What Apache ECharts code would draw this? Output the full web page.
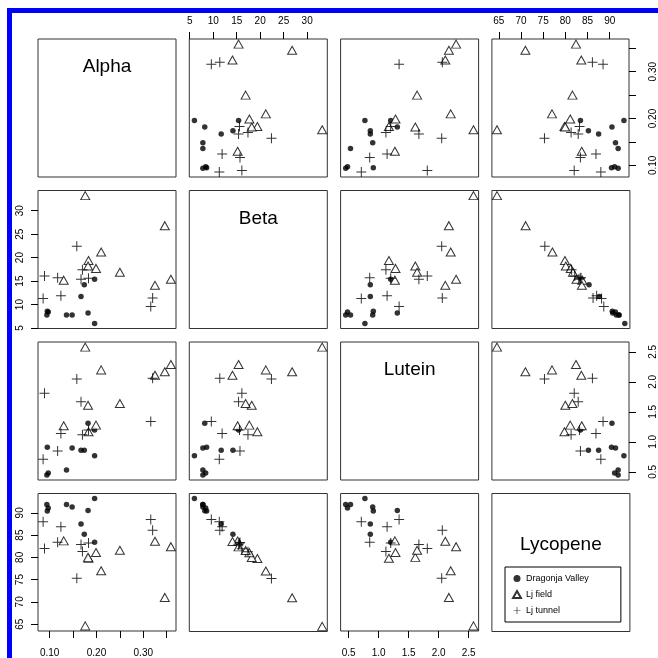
<!DOCTYPE html>
<html><head><meta charset="utf-8">
<script src="https://cdn.jsdelivr.net/npm/echarts@6/dist/echarts.min.js"></script>
<style>html,body{margin:0;padding:0;background:#fff}#c{width:658px;height:658px}</style>
</head><body><div id="c"></div>
<script>
const variables = ['Alpha', 'Beta', 'Lutein', 'Lycopene'];
const groups = ['Dragonja Valley', 'Lj field', 'Lj tunnel'];

// Dragonja Valley
const dvAlpha    = [0.094, 0.097, 0.095, 0.136, 0.148, 0.167, 0.174, 0.182, 0.196, 0.196];
const dvBeta     = [7.8, 8.4, 8.6, 7.8, 7.8, 11.7, 14.2, 8.2, 6.0, 15.4];
const dvLutein   = [0.45, 0.48, 0.91, 0.53, 0.90, 0.86, 0.86, 1.31, 0.77, 1.20];
const dvLycopene = [91.9, 91.1, 90.4, 91.9, 91.3, 87.5, 85.2, 90.5, 93.2, 83.4];
// Lj field
const lfAlpha    = [0.176, 0.346, 0.210, 0.183, 0.182, 0.199, 0.250, 0.130, 0.325, 0.359];
const lfBeta     = [33.2, 26.8, 21.2, 19.4, 18.2, 17.7, 16.9, 15.2, 14.1, 15.4];
const lfLutein   = [2.58, 2.17, 2.20, 1.17, 1.61, 1.28, 1.64, 1.27, 2.11, 2.29];
const lfLycopene = [64.6, 71.0, 77.0, 79.8, 80.0, 81.1, 81.6, 83.7, 83.6, 82.4];
// Lj tunnel
const ltAlpha    = [0.086, 0.089, 0.117, 0.124, 0.158, 0.167, 0.170, 0.183, 0.316, 0.320];
const ltBeta     = [11.3, 16.1, 15.7, 11.9, 22.4, 15.4, 17.4, 15.6, 9.6, 11.4];
const ltLutein   = [0.71, 1.81, 0.85, 1.14, 2.05, 1.67, 1.12, 1.20, 1.34, 2.06];
const ltLycopene = [88.0, 82.0, 83.4, 86.9, 75.3, 82.9, 81.3, 83.2, 88.5, 86.1];

// tick marks and labels
const alphaTicks = [0.10, 0.15, 0.20, 0.25, 0.30, 0.35];
const alphaLabels = [0.10, 0.20, 0.30];
const betaTicks = [5, 10, 15, 20, 25, 30];
const luteinTicks = [0.5, 1.0, 1.5, 2.0, 2.5];
const lycopeneTicks = [65, 70, 75, 80, 85, 90];

const groupData = [
  {Alpha: dvAlpha, Beta: dvBeta, Lutein: dvLutein, Lycopene: dvLycopene},
  {Alpha: lfAlpha, Beta: lfBeta, Lutein: lfLutein, Lycopene: lfLycopene},
  {Alpha: ltAlpha, Beta: ltBeta, Lutein: ltLutein, Lycopene: ltLycopene}
];
const tickInfo = {
  Alpha: {ticks: alphaTicks, labels: alphaLabels, dec: 2},
  Beta: {ticks: betaTicks, labels: betaTicks, dec: 0},
  Lutein: {ticks: luteinTicks, labels: luteinTicks, dec: 1},
  Lycopene: {ticks: lycopeneTicks, labels: lycopeneTicks, dec: 0}
};

const FONT = 'Liberation Sans, Arial, Helvetica, sans-serif';
const plusPath = 'path://M4.5,0 h1 v4.5 h4.5 v1 h-4.5 v4.5 h-1 v-4.5 h-4.5 v-1 h4.5 z';
const groupStyle = [
  {symbol: 'circle', symbolSize: 5.5, itemStyle: {color: '#000'}},
  {symbol: 'triangle', symbolSize: [9, 8], itemStyle: {color: '#fff', borderColor: '#000', borderWidth: 1}},
  {symbol: plusPath, symbolSize: 10, itemStyle: {color: '#000'}}
];

function dataRange(v) {
  const all = [].concat(...groupData.map(g => g[v]));
  const mn = Math.min(...all), mx = Math.max(...all), r = mx - mn;
  return [mn - 0.04 * r, mx + 0.04 * r];
}

const L0 = 38, T0 = 39, SX = 151.3, SY = 151.5, SIZE = 138;
const margins = {top: 13, bottom: 17, left: 13, right: 19};

function makeAxis(idx, v, pos, isY) {
  const info = tickInfo[v];
  const r = dataRange(v);
  const show = !!pos;
  const ax = {
    gridIndex: idx, type: 'value', min: r[0], max: r[1],
    axisLine: {show: false}, splitLine: {show: false},
    axisTick: {show: show, length: 7, customValues: info.ticks, lineStyle: {color: '#000', width: 1}},
    axisLabel: {show: show, customValues: info.labels, formatter: val => Number(val).toFixed(info.dec),
      fontSize: 10, color: '#000', fontFamily: FONT, margin: pos ? margins[pos] : 8}
  };
  if (pos) ax.position = pos;
  if (isY && show) ax.axisLabel.rotate = 90;
  return ax;
}

const grids = [], xAxes = [], yAxes = [], series = [], graphics = [];
for (let i = 0; i < 4; i++) {
  for (let j = 0; j < 4; j++) {
    const idx = grids.length;
    grids.push({left: L0 + j * SX, top: T0 + i * SY, width: SIZE, height: SIZE,
      show: true, borderColor: '#333', borderWidth: 1, backgroundColor: 'rgba(0,0,0,0)'});
    const xv = variables[j], yv = variables[i];
    const xPos = (i === 0 && j % 2 === 1) ? 'top' : (i === 3 && j % 2 === 0) ? 'bottom' : null;
    const yPos = (j === 0 && i % 2 === 1) ? 'left' : (j === 3 && i % 2 === 0) ? 'right' : null;
    xAxes.push(makeAxis(idx, xv, xPos, false));
    yAxes.push(makeAxis(idx, yv, yPos, true));
    if (i !== j) {
      groups.forEach((g, k) => {
        series.push(Object.assign({
          type: 'scatter', name: g, xAxisIndex: idx, yAxisIndex: idx,
          data: groupData[k][xv].map((x, n) => [x, groupData[k][yv][n]]),
          silent: true
        }, groupStyle[k]));
      });
    } else {
      const off = (i === 3) ? 51 : 28;
      graphics.push({type: 'text', x: L0 + j * SX + SIZE / 2, y: T0 + i * SY + off,
        style: {text: variables[i], fontSize: 19, fontFamily: FONT, fill: '#000',
          textAlign: 'center', textVerticalAlign: 'middle', align: 'center', verticalAlign: 'middle'}});
    }
  }
}
// blue frame
graphics.push({type: 'rect', shape: {x: 7, y: 8, width: 651, height: 5}, style: {fill: '#0000ff'}});
graphics.push({type: 'rect', shape: {x: 7, y: 8, width: 5, height: 650}, style: {fill: '#0000ff'}});

const chart = echarts.init(document.getElementById('c'), null, {renderer: 'canvas'});
chart.setOption({
  animation: false,
  backgroundColor: '#fff',
  grid: grids, xAxis: xAxes, yAxis: yAxes, series: series,
  legend: {
    data: groups, orient: 'vertical', left: 505, top: 567, selectedMode: false,
    itemWidth: 8, itemHeight: 7, itemGap: 7, padding: [7, 32, 7, 7],
    borderColor: '#000', borderWidth: 1,
    textStyle: {fontSize: 9, color: '#000', fontFamily: FONT}
  },
  graphic: graphics
});
</script></body></html>
